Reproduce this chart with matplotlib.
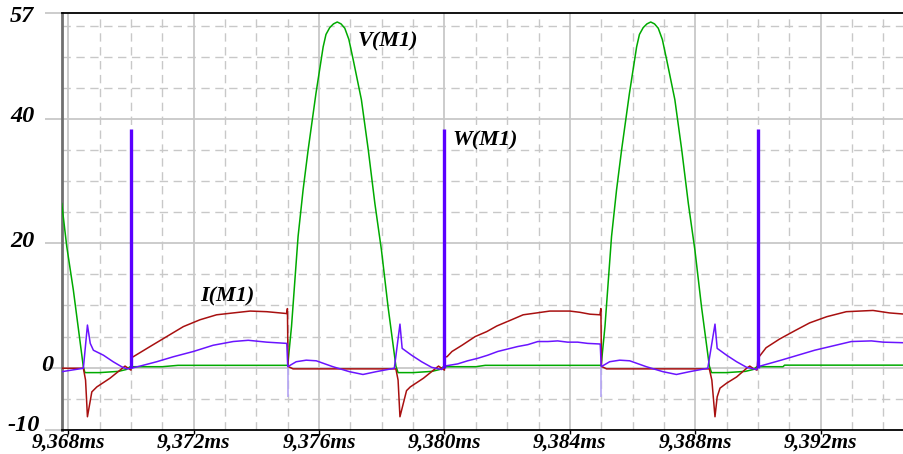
import matplotlib
matplotlib.use('Agg')
import matplotlib.pyplot as plt
from matplotlib.ticker import FixedLocator
from matplotlib.transforms import ScaledTranslation

# V(M1) - green
v_t = [9.36779, 9.36795, 9.36816, 9.36848, 9.36853, 9.36900, 9.36960, 9.36985, 9.36997,
       9.37100, 9.37150, 9.37499,
       9.37500, 9.37512, 9.37533, 9.37549, 9.37565, 9.37590, 9.37613, 9.37622, 9.37634,
       9.37646, 9.37658, 9.37670, 9.37682, 9.37695, 9.37709, 9.37735, 9.37757, 9.37778,
       9.37799, 9.37820, 9.37845,
       9.37852, 9.37900, 9.37960, 9.37985, 9.37997, 9.38100, 9.38130, 9.38499,
       9.38500, 9.38512, 9.38533, 9.38549, 9.38565, 9.38590, 9.38613, 9.38622, 9.38634,
       9.38646, 9.38658, 9.38670, 9.38682, 9.38695, 9.38709, 9.38735, 9.38757, 9.38778,
       9.38799, 9.38820, 9.38845,
       9.38852, 9.38900, 9.38960, 9.38985, 9.38997, 9.39080, 9.39085, 9.39470]
v_val = [26.4, 19.5, 12.5, 0.1, -0.8, -0.8, -0.6, -0.3, 0.15,
         0.15, 0.37, 0.37,
         0.4, 6.6, 21.1, 28.6, 35.0, 44.1, 51.6, 53.6, 54.7,
         55.3, 55.6, 55.3, 54.6, 52.8, 49.5, 43.1, 35.0, 26.4,
         18.9, 9.8, 0.26,
         -0.8, -0.8, -0.6, -0.3, 0.15, 0.15, 0.37, 0.37,
         0.4, 6.6, 21.1, 28.6, 35.0, 44.1, 51.6, 53.6, 54.7,
         55.3, 55.6, 55.3, 54.6, 52.8, 49.5, 43.1, 35.0, 26.4,
         18.9, 9.8, 0.26,
         -0.8, -0.8, -0.6, -0.3, 0.15, 0.15, 0.4, 0.4]

# I(M1) - red
i_t = [9.36779, 9.36848, 9.36855, 9.36861, 9.36875, 9.36891, 9.36933, 9.36965, 9.36981,
       9.36991, 9.37000, 9.37000, 9.37007, 9.37061, 9.37114, 9.37167, 9.37220, 9.37273,
       9.37326, 9.37380, 9.37433, 9.37497, 9.37499, 9.37501, 9.37517,
       9.37845, 9.37852, 9.37858, 9.37879, 9.37891, 9.37933, 9.37965, 9.37981, 9.37991,
       9.38000, 9.38000, 9.38008, 9.38024, 9.38056, 9.38098, 9.38135, 9.38167, 9.38214,
       9.38251, 9.38294, 9.38336, 9.38400, 9.38432, 9.38464, 9.38496, 9.38499, 9.38501,
       9.38517, 9.38845, 9.38853, 9.38863, 9.38870, 9.38879, 9.38900, 9.38932, 9.38964,
       9.38974, 9.38984, 9.38997, 9.39000, 9.39026, 9.39069, 9.39120, 9.39165, 9.39220,
       9.39282, 9.39367, 9.39420, 9.39470]
i_val = [-0.1, -0.1, -2.0, -7.9, -3.9, -3.1, -1.7, -0.4, 0.25,
         -0.1, -0.4, 1.75, 1.75, 3.4, 5.0, 6.6, 7.7, 8.5,
         8.8, 9.1, 9.0, 8.7, 9.5, 0.2, -0.2,
         -0.2, -2.0, -7.9, -3.7, -3.1, -1.7, -0.4, 0.25, -0.1,
         -0.4, 1.75, 1.75, 2.6, 3.6, 5.0, 5.8, 6.7, 7.7,
         8.5, 8.8, 9.1, 9.1, 8.9, 8.6, 8.5, 9.5, 0.2,
         -0.2, -0.2, -2.0, -7.9, -4.7, -3.3, -2.5, -1.5, -0.1,
         0.25, -0.1, -0.4, 1.5, 3.2, 4.6, 6.0, 7.2, 8.2,
         9.0, 9.2, 8.8, 8.6]

# W(M1) - blue
w_t = [9.36779, 9.36848, 9.36861, 9.36870, 9.36880, 9.36912, 9.36943, 9.36970, 9.36986,
       9.37000, 9.37029, 9.37082, 9.37135, 9.37199, 9.37262, 9.37326, 9.37374, 9.37433,
       9.37497, 9.37500, 9.37527, 9.37559, 9.37591, 9.37644, 9.37697, 9.37740, 9.37782,
       9.37840, 9.37858, 9.37865, 9.37895, 9.37927, 9.37959, 9.37991, 9.38000, 9.38042,
       9.38074, 9.38106, 9.38138, 9.38170, 9.38202, 9.38234, 9.38266, 9.38298, 9.38330,
       9.38361, 9.38393, 9.38425, 9.38457, 9.38497, 9.38500, 9.38527, 9.38559, 9.38591,
       9.38644, 9.38697, 9.38740, 9.38782, 9.38840, 9.38863, 9.38870, 9.38900, 9.38932,
       9.38964, 9.38996, 9.39000, 9.39074, 9.39181, 9.39298, 9.39362, 9.39400, 9.39470]
w_val = [-0.65, -0.1, 6.85, 3.9, 2.8, 2.0, 0.95, 0.15, -0.2,
         -0.1, 0.25, 0.95, 1.75, 2.6, 3.6, 4.2, 4.4, 4.1,
         3.9, 0.15, 0.95, 1.2, 1.1, 0.15, -0.65, -1.1, -0.65,
         -0.1, 7.0, 3.1, 2.0, 0.95, 0.05, -0.3, 0.25, 0.6,
         1.1, 1.5, 2.0, 2.6, 3.0, 3.4, 3.7, 4.2, 4.2,
         4.3, 4.1, 4.1, 3.9, 3.8, 0.15, 0.95, 1.2, 1.1,
         0.15, -0.65, -1.1, -0.65, -0.1, 7.0, 3.1, 2.0, 0.95,
         0.05, -0.3, 0.15, 1.2, 2.8, 4.2, 4.3, 4.1, 4.0]

# W(M1) switching spikes and dips
spike_t = [9.370, 9.380, 9.390]
spike_v = [38.4, 38.4, 38.4]
dip_t = [9.375, 9.385]
dip_v = [-4.7, -4.7]

xtick_vals = [9.368, 9.372, 9.376, 9.380, 9.384, 9.388, 9.392]
xtick_labels = ['9,368ms', '9,372ms', '9,376ms', '9,380ms', '9,384ms', '9,388ms', '9,392ms']
xminor_vals = [9.369, 9.370, 9.371, 9.373, 9.374, 9.375, 9.377, 9.378, 9.379,
               9.381, 9.382, 9.383, 9.385, 9.386, 9.387, 9.389, 9.390, 9.391, 9.393, 9.394]
ytick_vals = [-10, 0, 20, 40, 57]
ytick_labels = ['-10', '0', '20', '40', '57']
ygrid_major = [0, 20, 40]
yminor_vals = [-5, 5, 10, 15, 25, 30, 35, 45, 50, 55]

green = '#00aa00'
red = '#a81010'
blue = '#6a14ff'
gridc = '#c8c8c8'
lbl_font = dict(family='Liberation Serif', weight='bold', style='italic')

fig = plt.figure(figsize=(9.04, 4.54), dpi=100)
ax = fig.add_axes([0.0686, 0.0533, 0.9314, 0.9174])

# grid
for x in xminor_vals:
    ax.axvline(x, color=gridc, lw=1.0, ls=(0, (6, 4)), zorder=0)
for x in xtick_vals:
    ax.axvline(x, color=gridc, lw=1.3, zorder=0)
for y in yminor_vals:
    ax.axhline(y, color=gridc, lw=1.0, ls=(0, (6, 4)), zorder=0)
for y in ygrid_major:
    ax.axhline(y, color=gridc, lw=1.3, zorder=0)

ax.plot(v_t, v_val, color=green, lw=1.1, zorder=3)
ax.plot(i_t, i_val, color=red, lw=1.1, zorder=3)
ax.plot(w_t, w_val, color=blue, lw=1.1, zorder=4)
ax.vlines(spike_t, 0, spike_v, color='#5a00ff', lw=2.4, zorder=5)
ax.vlines(dip_t, 0, dip_v, color='#b4a4f4', lw=1.2, zorder=2)

ax.set_xlim(9.367799, 9.39466)
ax.set_ylim(-10, 57)

ax.xaxis.set_major_locator(FixedLocator(xtick_vals))
ax.set_xticklabels(xtick_labels, fontsize=15.5, **lbl_font)
ax.yaxis.set_major_locator(FixedLocator(ytick_vals))
ax.set_yticklabels(ytick_labels, fontsize=17.5, **lbl_font)
ax.tick_params(axis='x', direction='out', length=3, width=1, color='black', pad=-1)
ax.tick_params(axis='y', direction='out', length=12, width=1.3, color=gridc, pad=8)

# small per-label nudges like the original plot
y_shift = {'-10': (6, 7), '0': (19, 5), '20': (0, 4), '40': (0, 5), '57': (0, -1)}
for lab in ax.get_yticklabels():
    dx, dy = y_shift[lab.get_text()]
    lab.set_transform(lab.get_transform() + ScaledTranslation(dx / 100, dy / 100, fig.dpi_scale_trans))

for s in ['top', 'bottom']:
    ax.spines[s].set_color('black')
    ax.spines[s].set_linewidth(1.3)
ax.spines['left'].set_color('#707070')
ax.spines['left'].set_linewidth(2.0)
ax.spines['right'].set_visible(False)

ax.text(9.37724, 52.5, 'V(M1)', fontsize=16, va='center', ha='left', **lbl_font)
ax.text(9.38027, 36.6, 'W(M1)', fontsize=16, va='center', ha='left', **lbl_font)
ax.text(9.37220, 11.5, 'I(M1)', fontsize=16, va='center', ha='left', **lbl_font)

fig.savefig('out.png', dpi=100)
